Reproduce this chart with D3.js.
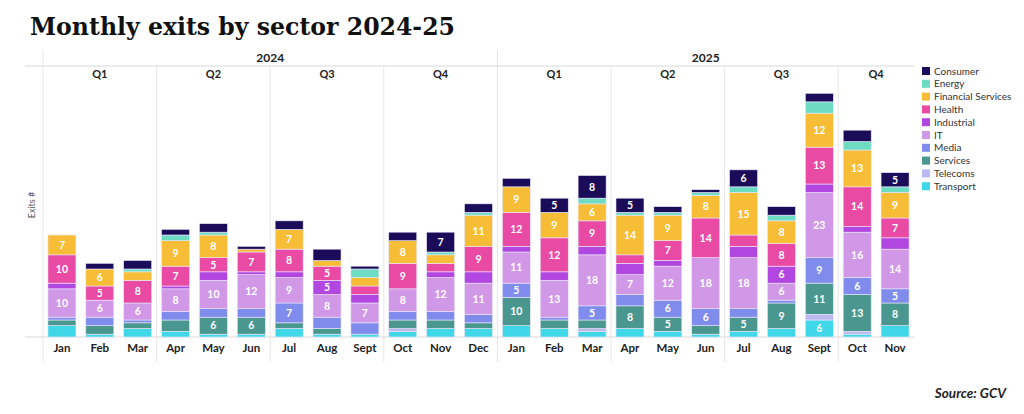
<!DOCTYPE html>
<html>
<head>
<meta charset="utf-8">
<script src="https://cdn.jsdelivr.net/npm/d3@7"></script>
<style>
  body { margin: 0; background: #fff; }
  svg { display: block; font-family: Lato, "Open Sans", sans-serif; }
</style>
</head>
<body>
<div id="chart"></div>
<script>
// months, oldest first
const months = ["Jan","Feb","Mar","Apr","May","Jun","Jul","Aug","Sept","Oct","Nov","Dec",
                "Jan","Feb","Mar","Apr","May","Jun","Jul","Aug","Sept","Oct","Nov"];
const years = [{label: "2024", from: 0, to: 12}, {label: "2025", from: 12, to: 23}];
const quarters = ["Q1","Q2","Q3","Q4","Q1","Q2","Q3","Q4"];

// stacking order, bottom to top
const sectors = ["Transport","Telecoms","Services","Media","IT","Industrial","Health","Financial Services","Energy","Consumer"];
const legendOrder = ["Consumer","Energy","Financial Services","Health","Industrial","IT","Media","Services","Telecoms","Transport"];
const colors = {
  "Consumer": "#1b0c5a", "Energy": "#6ddcc3", "Financial Services": "#f8bd36",
  "Health": "#e94ba4", "Industrial": "#b246e0", "IT": "#d198e8",
  "Media": "#7f8cec", "Services": "#4a978f", "Telecoms": "#bcb8f0", "Transport": "#40d7e9"
};

const transport  = [4,1,3,2,1,1,3,1,1,2,3,3, 4,3,2,3,2,1,2,3,6,1,4];
const telecoms   = [0,0,0,0,0,0,0,0,0,1,0,0, 0,0,1,0,0,0,0,0,2,1,0];
const services   = [2,3,2,4,6,6,2,2,0,3,3,2, 10,3,3,8,5,3,5,9,11,13,8];
const media      = [1,3,1,3,3,3,7,4,4,3,3,3, 5,1,5,4,6,6,3,1,9,6,5];
const it         = [10,6,6,8,10,12,9,8,7,8,12,11, 11,13,18,7,12,18,18,6,23,16,14];
const industrial = [2,0,0,1,3,1,2,5,3,0,2,4, 2,3,3,4,2,0,4,6,3,2,4];
const health     = [10,5,8,7,5,7,8,5,3,9,3,9, 12,12,9,3,7,14,4,8,13,14,7];
const financial  = [7,6,3,9,8,1,7,2,3,8,3,11, 9,9,6,14,9,8,15,8,12,13,9];
const energy     = [0,0,1,2,1,0,0,0,3,0,1,1, 0,0,2,1,1,1,2,2,4,3,2];
const consumer   = [0,2,3,2,3,1,3,4,1,3,7,3, 3,5,8,5,2,1,6,3,3,4,5];

const series = {
  "Transport": transport, "Telecoms": telecoms, "Services": services, "Media": media,
  "IT": it, "Industrial": industrial, "Health": health, "Financial Services": financial,
  "Energy": energy, "Consumer": consumer
};

const rows = months.map((m, i) => {
  const r = {idx: i};
  sectors.forEach(s => r[s] = series[s][i]);
  return r;
});

const width = 1024, height = 414;
const left = 43, right = 914, baseY = 337, topY = 82;

const svg = d3.select("#chart").append("svg")
  .attr("width", width)
  .attr("height", height);

svg.append("text")
  .attr("x", 30).attr("y", 35)
  .attr("font-family", "'DejaVu Serif', 'Liberation Serif', serif")
  .attr("font-weight", "bold")
  .attr("font-size", 25)
  .attr("textLength", 425)
  .attr("lengthAdjust", "spacingAndGlyphs")
  .attr("fill", "#111")
  .text("Monthly exits by sector 2024-25");

const x = d3.scaleBand()
  .domain(d3.range(months.length))
  .range([left, right])
  .paddingInner(0.26)
  .paddingOuter(0.13);

const y = d3.scaleLinear().domain([0, 90]).range([baseY, topY]);

const edge = i => left + i * (right - left) / months.length;

// grid frame
const grid = svg.append("g").attr("stroke", "#e6e6e6").attr("stroke-width", 1);
grid.append("line").attr("x1", 25).attr("x2", right).attr("y1", 66).attr("y2", 66).attr("stroke-width", 1.5);
grid.append("line").attr("x1", 25).attr("x2", right).attr("y1", baseY).attr("y2", baseY).attr("stroke-width", 1.5);
grid.append("line").attr("x1", left).attr("x2", left).attr("y1", 50).attr("y2", 362);
grid.append("line").attr("x1", edge(12)).attr("x2", edge(12)).attr("y1", 50).attr("y2", 362);
d3.range(1, 8).filter(q => q !== 4).forEach(q => {
  grid.append("line").attr("x1", edge(q * 3)).attr("x2", edge(q * 3)).attr("y1", 66).attr("y2", 362);
});

// year + quarter headers
svg.selectAll(".year").data(years).enter().append("text")
  .attr("x", d => (edge(d.from) + edge(d.to)) / 2)
  .attr("y", 62)
  .attr("text-anchor", "middle")
  .attr("font-weight", "bold").attr("font-size", 12).attr("fill", "#222")
  .text(d => d.label);

svg.selectAll(".q").data(quarters).enter().append("text")
  .attr("x", (d, i) => (edge(i * 3) + edge(Math.min(i * 3 + 3, months.length))) / 2)
  .attr("y", 78)
  .attr("text-anchor", "middle")
  .attr("font-weight", "bold").attr("font-size", 11).attr("fill", "#222")
  .text(d => d);

// stacks
const stack = d3.stack().keys(sectors)(rows);

const layer = svg.selectAll(".layer").data(stack).enter().append("g")
  .attr("fill", d => colors[d.key]);

layer.selectAll("rect").data(d => d.map(p => ({key: d.key, p: p}))).enter().append("rect")
  .attr("x", d => x(d.p.data.idx))
  .attr("width", x.bandwidth())
  .attr("y", d => y(d.p[1]))
  .attr("height", d => y(d.p[0]) - y(d.p[1]))
  .attr("stroke", "#ece8fa")
  .attr("stroke-width", 0.6);

layer.selectAll("text").data(d => d.map(p => ({key: d.key, p: p})).filter(v => v.p[1] - v.p[0] >= 5))
  .enter().append("text")
  .attr("x", d => x(d.p.data.idx) + x.bandwidth() / 2)
  .attr("y", d => (y(d.p[0]) + y(d.p[1])) / 2)
  .attr("dy", "0.36em")
  .attr("text-anchor", "middle")
  .attr("font-weight", "bold").attr("font-size", 10.5)
  .attr("fill", "#fff")
  .text(d => d.p[1] - d.p[0]);

// month labels
svg.selectAll(".month").data(months).enter().append("text")
  .attr("x", (d, i) => x(i) + x.bandwidth() / 2)
  .attr("y", 352)
  .attr("text-anchor", "middle")
  .attr("font-weight", "bold").attr("font-size", 11.5).attr("fill", "#222")
  .text(d => d);

// y title
svg.append("text")
  .attr("transform", `translate(35, 205) rotate(-90)`)
  .attr("text-anchor", "middle")
  .attr("font-size", 9).attr("fill", "#555")
  .text("Exits #");

// legend
const legend = svg.selectAll(".legend").data(legendOrder).enter().append("g")
  .attr("transform", (d, i) => `translate(922, ${67 + i * 12.8})`);
legend.append("rect").attr("width", 8).attr("height", 8).attr("fill", d => colors[d]);
legend.append("text").attr("x", 12).attr("y", 7.5)
  .attr("font-size", 10).attr("fill", "#333")
  .text(d => d);

svg.append("text")
  .attr("x", 1006).attr("y", 398)
  .attr("text-anchor", "end")
  .attr("font-weight", "bold").attr("font-style", "italic")
  .attr("font-size", 13.5).attr("fill", "#222")
  .text("Source: GCV");
</script>
</body>
</html>
